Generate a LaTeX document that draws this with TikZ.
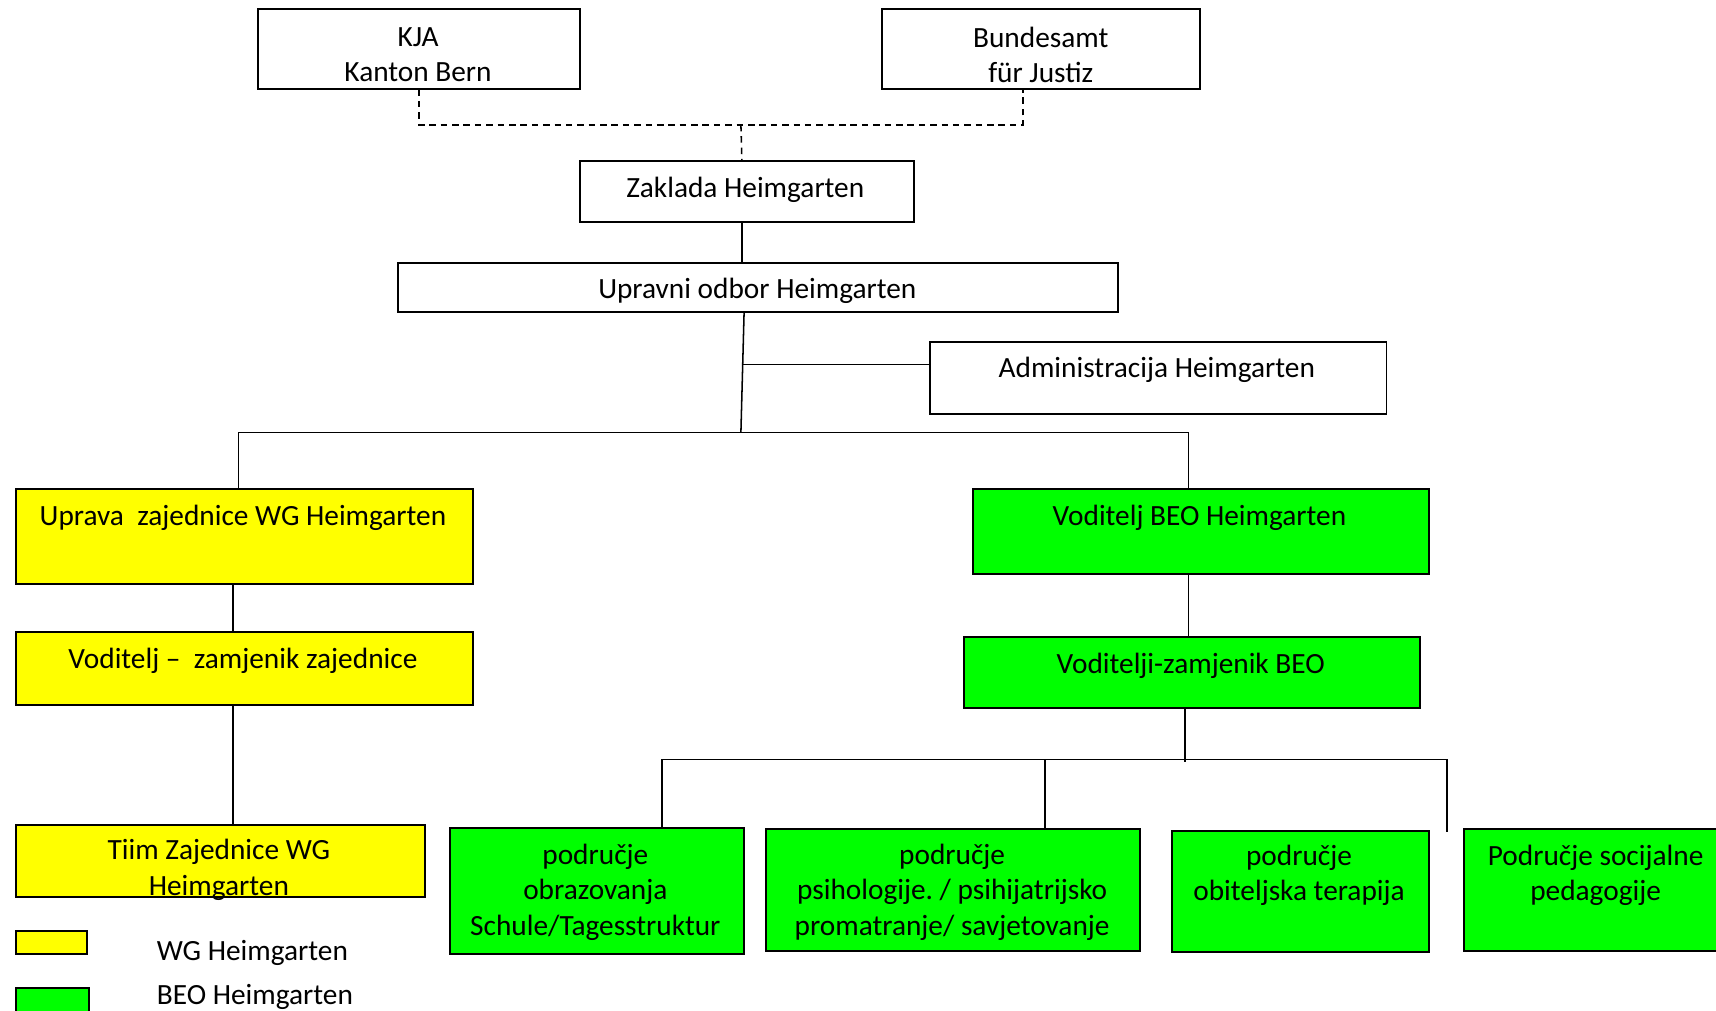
\documentclass[tikz,border=0pt]{standalone}
\usepackage{fontspec}
\setmainfont{Carlito}
\frenchspacing
\usetikzlibrary{calc}
\definecolor{ybox}{RGB}{255,255,0}
\definecolor{gbox}{RGB}{0,255,0}
\tikzset{
  box/.style={draw=black, line width=0.9pt, rectangle, inner sep=0pt, anchor=north west},
  txt/.style={font=\fontsize{13.4}{16.2}\selectfont, align=center, inner sep=0pt},
  conn/.style={draw=black, line width=0.7pt},
  dconn/.style={conn, dash pattern=on 3pt off 2.2pt},
}
\newcommand\mybox[6]{% name, x1, y1, x2, y2, fill
  \node[box, fill=#6, minimum width={(#4-#2)*0.5pt}, minimum height={(#5-#3)*0.5pt}] (#1) at (#2,#3) {};}
\begin{document}
\begin{tikzpicture}[x=0.5pt,y=-0.5pt]
\useasboundingbox (0,0) rectangle (1568,923);
% boxes
\mybox{kja}{235}{7}{529}{80}{white}
\mybox{bund}{805}{7}{1096}{80}{white}
\mybox{zak}{529}{146}{834}{202}{white}
\mybox{upr}{363}{239}{1021}{284}{white}
\mybox{adm}{849}{312}{1266}{377}{white}
\mybox{uprava}{14}{446}{431}{533}{ybox}
\mybox{vzam}{14}{577}{431}{643}{ybox}
\mybox{tiim}{14}{753}{387}{819}{ybox}
\mybox{legy}{14}{850}{79}{871}{ybox}
\mybox{legg}{14}{902}{80}{932}{gbox}
\mybox{vbeo}{888}{446}{1305}{524}{gbox}
\mybox{vbz}{880}{581}{1297}{646}{gbox}
\mybox{obr}{410}{756}{679}{871}{gbox}
\mybox{psi}{699}{757}{1041}{868}{gbox}
\mybox{obi}{1070}{758}{1305}{869}{gbox}
\mybox{soc}{1337}{757}{1590}{868}{gbox}
% texts
\node[txt] (tkja) at (382,50) {KJA\\Kanton Bern};
\node[txt] (tbund) at (951,50) {Bundesamt\\für Justiz};
\node[txt] (tzak) at (681,173) {Zaklada Heimgarten};
\node[txt] (tupr) at (692,266) {Upravni odbor Heimgarten};
\node[txt] (tadm) at (1057,338) {Administracija Heimgarten};
\node[txt] (tuprava) at (222,473) {Uprava\ \ zajednice WG Heimgarten};
\node[txt] (tvzam) at (222,604) {Voditelj –\ \ zamjenik zajednice};
\node[txt] (ttiim) at (200,795) {Tiim Zajednice WG\\Heimgarten};
\node[txt, anchor=west] (tlegy) at (143,871) {WG Heimgarten};
\node[txt, anchor=west] (tlegg) at (143,911) {BEO Heimgarten};
\node[txt] (tvbeo) at (1096,473) {Voditelj BEO Heimgarten};
\node[txt] (tvbz) at (1088,608) {Voditelji-zamjenik BEO};
\node[txt] (tobr) at (544,815) {područje\\obrazovanja\\Schule/Tagesstruktur};
\node[txt] (tpsi) at (870,815) {područje\\psihologije. / psihijatrijsko\\promatranje/ savjetovanje};
\node[txt] (tobi) at (1187,800) {područje\\obiteljska terapija};
\node[txt] (tsoc) at (1458,800) {Područje socijalne\\pedagogije};
% connectors
\coordinate (dj) at (677,114);
\draw[dconn] (kja.south) |- (dj) -| ([xshift=-8.25pt]bund.south);
\draw[dconn] (dj) -- ([xshift=-2.25pt]zak.north);
\draw[conn] ([xshift=-2.25pt]zak.south) -- ([xshift=-2.25pt]zak.south |- upr.north);
\coordinate (hub) at (677,395);
\coordinate (admj) at (679,333);
\draw[conn] ([xshift=-6.5pt]upr.south) -- (hub);
\draw[conn] (admj) -- (admj -| adm.west);
\draw[conn] ([xshift=-2.75pt]uprava.north) |- (hub) -| ([xshift=-5.75pt]vbeo.north);
\draw[conn] ([xshift=-5.25pt]uprava.south) -- ([xshift=-5.25pt]vzam.north);
\draw[conn] ([xshift=-5.25pt]vzam.south) -- ([xshift=-5.25pt]vzam.south |- tiim.north);
\draw[conn] ([xshift=-5.75pt]vbeo.south) -- ([xshift=-5.75pt]vbeo.south |- vbz.north);
\coordinate (bh) at (1082,694);
\coordinate (socend) at (1322,760);
\draw[conn] ([xshift=-3.25pt]vbz.south) -- ([xshift=-3.25pt,yshift=-1pt]vbz.south |- bh);
\draw[conn] ([xshift=29.75pt]obr.north) |- (socend |- bh) -- (socend);
\draw[conn] ([xshift=42pt]psi.north) -- ([xshift=42pt]psi.north |- bh);
\end{tikzpicture}
\end{document}
